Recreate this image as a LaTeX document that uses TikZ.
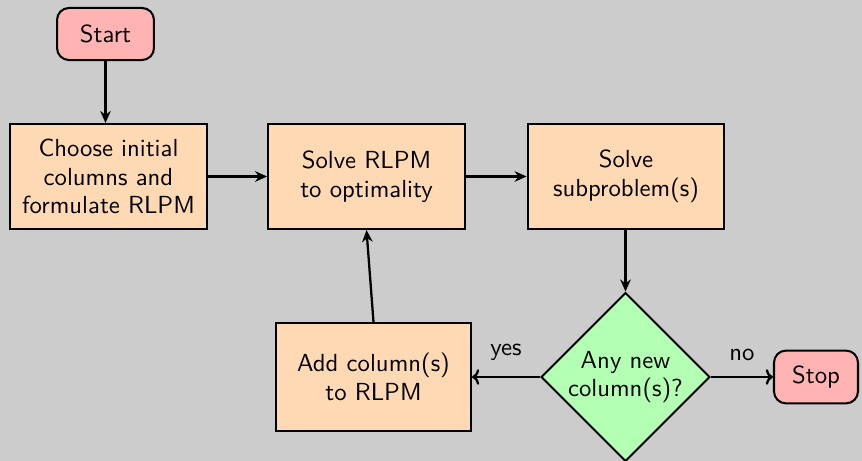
\documentclass[tikz,border=0pt]{standalone}
\usetikzlibrary{shapes.geometric,arrows.meta}
\definecolor{termfill}{HTML}{FFB3B3}
\definecolor{procfill}{HTML}{FFD9B3}
\definecolor{decfill}{HTML}{B3FFB3}
\definecolor{bgfill}{HTML}{CCCCCC}
\begin{document}
\begin{tikzpicture}[x=0.4167pt,y=-0.4167pt,
  font=\sffamily\fontsize{10.3}{12}\selectfont,
  base/.style={draw=black,line width=0.85pt,inner sep=0pt,align=center},
  terminal/.style={base,rounded corners=5pt,fill=termfill},
  process/.style={base,fill=procfill,minimum width=82pt,minimum height=43.75pt},
  decision/.style={base,diamond,aspect=1,fill=decfill,minimum width=70.4pt,minimum height=70.4pt},
  flow/.style={line width=0.95pt,-{Stealth[length=5pt,width=4.4pt,inset=1.6pt]}},
  flowto/.style={line width=0.95pt,-{To[length=3pt,width=6.5pt]}}]
  \fill[bgfill] (0,0) rectangle (862,461);
  \useasboundingbox (0,0) rectangle (862,461);
  \node[terminal,minimum width=40.4pt,minimum height=21.7pt] (start) at (105.5,34) {Start};
  \node[process] (init) at (108.5,176.5) {Choose initial\\columns and\\formulate RLPM};
  \node[process] (rlpm) at (366.5,176.5) {Solve RLPM\\to optimality};
  \node[process] (sub) at (626,176.5) {Solve\\subproblem(s)};
  \node[decision] (new) at (625.5,377) {Any new\\column(s)?};
  \node[process,minimum width=81.25pt,minimum height=45pt] (add) at (373.5,377) {Add column(s)\\to RLPM};
  \node[terminal,minimum width=35pt,minimum height=22pt] (stop) at (816,377) {Stop};
  \draw[flow] (start.south) -- (start.south |- init.north);
  \draw[flow] (init) -- (rlpm);
  \draw[flow] (rlpm) -- (sub);
  \draw[flow] (sub.south -| new.north) -- (new.north);
  \draw[flowto] (new) -- node[above=3pt] {yes} (add);
  \draw[flowto] (new.east) -- node[above=3pt] {no} (stop.west);
  \draw[flow] (add.north) -- (rlpm.south);
\end{tikzpicture}
\end{document}
